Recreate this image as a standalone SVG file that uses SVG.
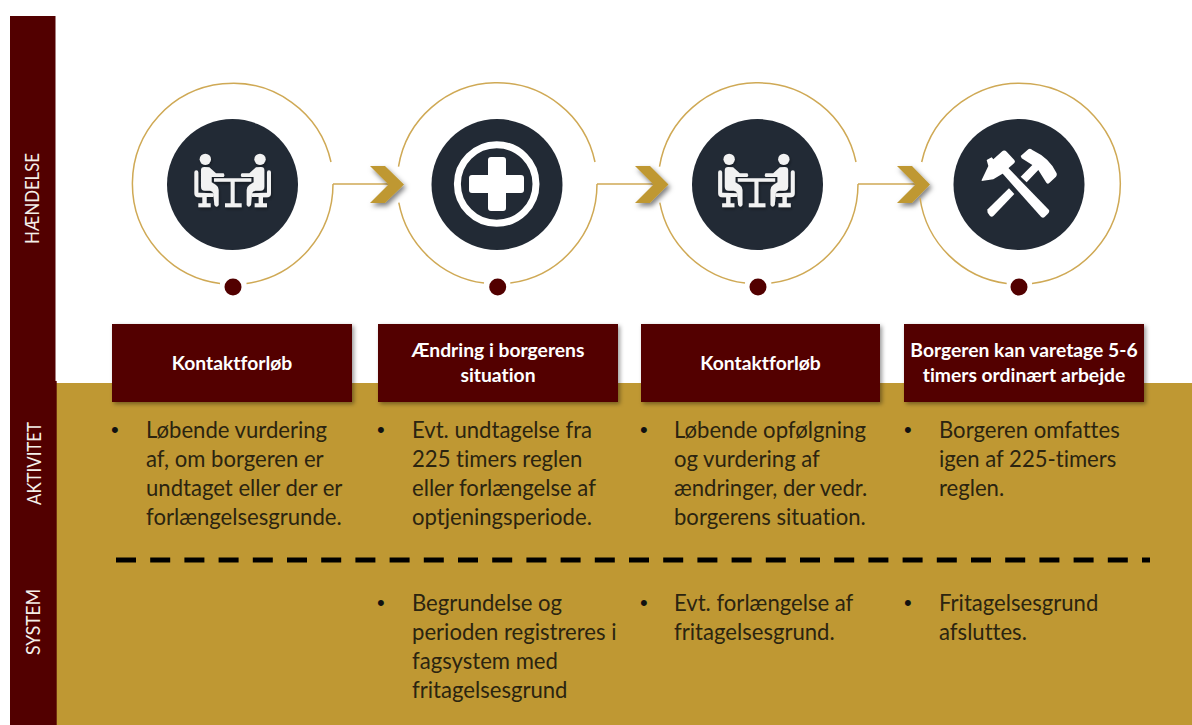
<svg xmlns="http://www.w3.org/2000/svg" width="1192" height="725" viewBox="0 0 1192 725">
<defs>
<filter id="sh" x="-20%" y="-20%" width="150%" height="150%"><feDropShadow dx="2" dy="2" stdDeviation="2" flood-color="#000" flood-opacity=".4"/></filter>
<filter id="sh2" x="-30%" y="-30%" width="170%" height="170%"><feDropShadow dx="2" dy="3" stdDeviation="2.500" flood-color="#000" flood-opacity=".5"/></filter>
<filter id="sh3" x="-10%" y="-10%" width="130%" height="130%"><feDropShadow dx="1" dy="2" stdDeviation="1.500" flood-color="#000" flood-opacity=".35"/></filter>
<g id="half">
<circle cx="46" cy="43" r="17"/>
<path d="M33 75Q33 66 43 66L58 67L78 85L101 85Q106 91 101 96L65 96L65 112L78 120Q86 125 86 135L86 180Q80 190 73 180L70 145Q68 137 60 137L45 137Q33 137 33 125Z"/>
<path d="M13 82Q13 76 19 76Q25 76 25 82L25 143L70 145Q74 150 70 156L50 156L50 175L62 175L62 187L25 187L25 175L37 175L37 157L25 157Q13 157 13 145Z"/>
</g>
<g id="people" transform="scale(.3333)" fill="#f2f2f2">
<use href="#half"/>
<use href="#half" transform="translate(256,0) scale(-1,1)"/>
<path d="M72 100H184V110H134V175H155V187H105V175H122V110H72Z"/>
</g>
</defs>
<style>
.arc{fill:none;stroke:#cfa955;stroke-width:1.5}
.lnk{fill:none;stroke:#cfa955;stroke-width:1.6}
.chev{fill:#bf9833;filter:url(#sh2)}
.disc{fill:#222a35}
.dot{fill:#520000}
.hdr{fill:#520000;filter:url(#sh)}
.ht{font:bold 19.300px Lato,"Open Sans",sans-serif;fill:#fff;text-anchor:middle;font-variant-ligatures:none}
.bt{font:22.100px Lato,"Open Sans",sans-serif;fill:#2b2410;font-variant-ligatures:none}
.bl{font:22px "Liberation Sans",sans-serif;fill:#111}
.side{font:18.500px Lato,"Open Sans",sans-serif;fill:#f4f0ea}
</style>
<rect width="1192" height="725" fill="#fff"/>
<rect id="band" x="56" y="383" width="1136" height="342" fill="#bf9833"/>
<g id="side-bar">
<path d="M10 16H55.500V381H56.700V725H10Z" fill="#520000"/>
<text class="side" transform="translate(38.500,244) rotate(-90)" textLength="91" lengthAdjust="spacingAndGlyphs">HÆNDELSE</text>
<text class="side" transform="translate(40.500,505) rotate(-90)" textLength="83" lengthAdjust="spacingAndGlyphs">AKTIVITET</text>
<text class="side" transform="translate(40,655) rotate(-90)" textLength="66" lengthAdjust="spacingAndGlyphs">SYSTEM</text>
</g>
<g id="connectors">
<path class="lnk" d="M333 184H390"/>
<path class="lnk" d="M597 184H654"/>
<path class="lnk" d="M858 184H916"/>
<path class="chev" d="M370 166H385L404 184.500L385 203H370L388.500 184.500Z"/>
<path class="chev" d="M635 166H650L668.500 184.500L650 203H635L653.500 184.500Z"/>
<path class="chev" d="M897 166H912L930 184.500L912 203H897L915.500 184.500Z"/>
<path id="divider" d="M116 560H1150" stroke="#000" stroke-width="5" stroke-dasharray="20 14.200" fill="none"/>
</g>
<g id="node1">
<path class="arc" d="M333 184A100.500 100.500 0 0 1 246.500 283.500M220 283.500A100.500 100.500 0 1 1 331 162"/>
<circle class="disc" cx="232.500" cy="184.500" r="65.500"/>
<use href="#people" transform="translate(190,145)" filter="url(#sh3)"/>
<circle class="dot" cx="233" cy="287" r="8.500"/>
<rect class="hdr" x="112" y="324" width="240" height="78"/>
<text class="ht" x="232" y="370">Kontaktforløb</text>
<text class="bl" x="111" y="437">•</text>
<text class="bt"><tspan x="146" y="438">Løbende vurdering</tspan><tspan x="146" y="467">af, om borgeren er</tspan><tspan x="146" y="496">undtaget eller der er</tspan><tspan x="146" y="525">forlængelsesgrunde.</tspan></text>
</g>
<g id="node2">
<path class="arc" d="M597 184A100 100 0 0 1 510.300 283.100M484 283.100A100 100 0 0 1 398.800 202.700M398.500 166.700A100 100 0 0 1 595 162"/>
<circle class="disc" cx="497" cy="184.500" r="65.500"/>
<circle cx="496.700" cy="184" r="39.300" fill="none" stroke="#fff" stroke-width="7"/>
<path d="M488 160Q488 157 491 157H503Q506 157 506 160V175H521Q524 175 524 178V190Q524 193 521 193H506V208Q506 211 503 211H491Q488 211 488 208V193H472Q469 193 469 190V178Q469 175 472 175H488Z" fill="#fff"/>
<circle class="dot" cx="497.700" cy="287" r="8.500"/>
<rect class="hdr" x="378" y="324" width="240" height="78"/>
<text class="ht"><tspan x="498" y="357">Ændring i borgerens</tspan><tspan x="498" y="382">situation</tspan></text>
<text class="bl" x="377" y="437">•</text>
<text class="bt"><tspan x="412" y="438">Evt. undtagelse fra</tspan><tspan x="412" y="467">225 timers reglen</tspan><tspan x="412" y="496">eller forlængelse af</tspan><tspan x="412" y="525">optjeningsperiode.</tspan></text>
<text class="bl" x="377" y="610">•</text>
<text class="bt"><tspan x="412" y="611">Begrundelse og</tspan><tspan x="412" y="640">perioden registreres i</tspan><tspan x="412" y="669">fagsystem med</tspan><tspan x="412" y="698">fritagelsesgrund</tspan></text>
</g>
<g id="node3">
<path class="arc" d="M858 184A100 100 0 0 1 771.300 283.100M745 283.100A100 100 0 0 1 659.800 202.700M659.500 166.700A100 100 0 0 1 856 162"/>
<circle class="disc" cx="757.500" cy="184.500" r="65.500"/>
<use href="#people" transform="translate(713.800,145)" filter="url(#sh3)"/>
<circle class="dot" cx="758" cy="287" r="8.500"/>
<rect class="hdr" x="641" y="324" width="239" height="78"/>
<text class="ht" x="760.500" y="370">Kontaktforløb</text>
<text class="bl" x="640" y="437">•</text>
<text class="bt"><tspan x="674" y="438">Løbende opfølgning</tspan><tspan x="674" y="467">og vurdering af</tspan><tspan x="674" y="496">ændringer, der vedr.</tspan><tspan x="674" y="525">borgerens situation.</tspan></text>
<text class="bl" x="640" y="610">•</text>
<text class="bt"><tspan x="674" y="611">Evt. forlængelse af</tspan><tspan x="674" y="640">fritagelsesgrund.</tspan></text>
</g>
<g id="node4">
<path class="arc" d="M920 198A100.500 100.500 0 0 0 1006.700 283.500M1032 283.500A100.500 100.500 0 1 0 921.700 162"/>
<circle class="disc" cx="1019" cy="184.500" r="65.500"/>
<g transform="translate(975,140) scale(.3333)" fill="#fff">
<path d="M20 120L40 78L35 60L50 52L55 58L80 35Q88 28 95 35L118 60Q122 65 118 69L100 85L85 100L55 118L20 123Z"/>
<path d="M82 100L98 82L222 210Q225 215 218 222L208 232Q203 235 198 230Z"/>
<path d="M38 208L102 145L118 162L55 228Q50 232 45 228L38 218Q36 212 38 208Z"/>
<path d="M137 48L160 28Q165 24 172 30Q225 55 245 100Q247 106 243 110L222 130Q218 133 214 128L190 90L155 127L137 110L172 75L140 55Z"/>
</g>
<circle class="dot" cx="1019" cy="287" r="8.500"/>
<rect class="hdr" x="904" y="324" width="240" height="78"/>
<text class="ht"><tspan x="1024" y="357">Borgeren kan varetage 5-6</tspan><tspan x="1024" y="382">timers ordinært arbejde</tspan></text>
<text class="bl" x="904" y="437">•</text>
<text class="bt"><tspan x="939" y="438">Borgeren omfattes</tspan><tspan x="939" y="467">igen af 225-timers</tspan><tspan x="939" y="496">reglen.</tspan></text>
<text class="bl" x="904" y="610">•</text>
<text class="bt"><tspan x="939" y="611">Fritagelsesgrund</tspan><tspan x="939" y="640">afsluttes.</tspan></text>
</g>
</svg>
